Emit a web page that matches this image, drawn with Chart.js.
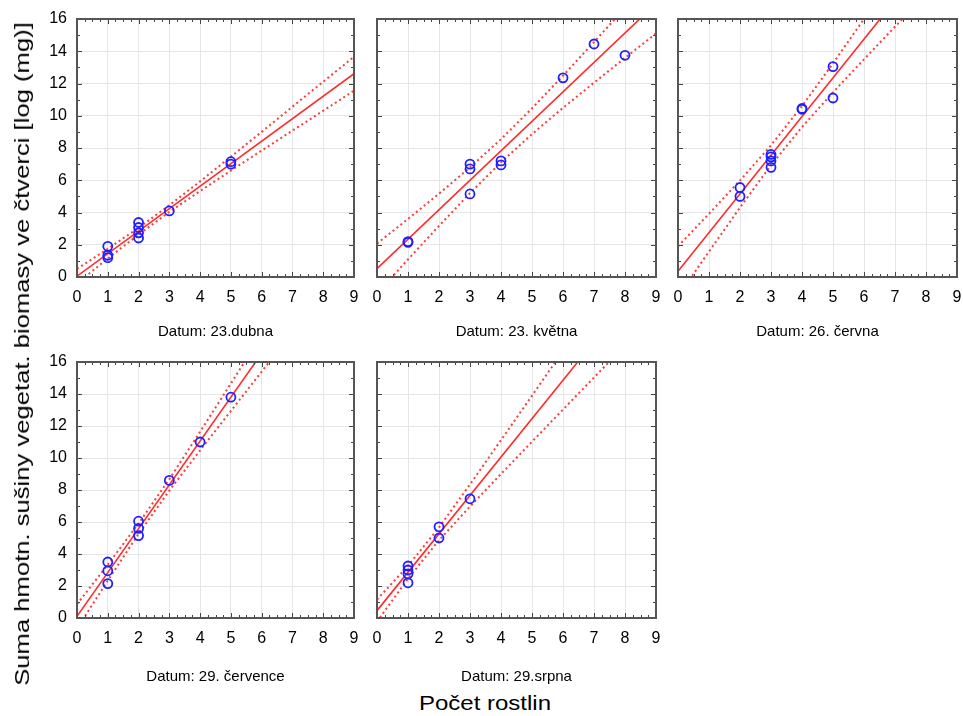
<!DOCTYPE html>
<html>
<head>
<meta charset="utf-8">
<script src="https://cdn.jsdelivr.net/npm/chart.js@4.4.1/dist/chart.umd.min.js"></script>
<style>
  body { margin: 0; background: #fff; }
  #wrap { position: relative; width: 963px; height: 716px; overflow: hidden; font-family: "Liberation Sans", Arial, sans-serif; }
  canvas { position: absolute; }
  #ytitle {
    position: absolute; left: 22px; top: 354px;
    transform: translate(-50%, -50%) rotate(-90deg) scaleX(1.22);
    white-space: nowrap; font-size: 21px; color: #000;
  }
  #xtitle {
    position: absolute; left: 485px; top: 703px;
    transform: translate(-50%, -50%) scaleX(1.2);
    white-space: nowrap; font-size: 20px; color: #000;
  }
</style>
</head>
<body>
<div id="wrap">
  <canvas id="c1"></canvas>
  <canvas id="c2"></canvas>
  <canvas id="c3"></canvas>
  <canvas id="c4"></canvas>
  <canvas id="c5"></canvas>
  <div id="ytitle">Suma hmotn. sušiny vegetat. biomasy ve čtverci [log (mg)]</div>
  <div id="xtitle">Počet rostlin</div>
</div>
<script>
// panel titles (dates)
const panelTitles = ["Datum: 23.dubna", "Datum: 23. května", "Datum: 26. června", "Datum: 29. července", "Datum: 29.srpna"];

// measured points: x = number of plants, y = log biomass
const aprX = [1, 1, 1, 2, 2, 2, 2, 3, 5, 5];
const aprY = [1.9, 1.35, 1.2, 3.38, 3.07, 2.74, 2.42, 4.1, 7.15, 7.0];
const mayX = [1, 1, 3, 3, 3, 4, 4, 6, 7, 8];
const mayY = [2.15, 2.2, 7.0, 6.7, 5.15, 7.2, 6.95, 12.35, 14.45, 13.75];
const junX = [2, 2, 3, 3, 3, 3, 4, 4, 5, 5];
const junY = [5.55, 5.0, 7.6, 7.45, 7.2, 6.8, 10.4, 10.45, 13.05, 11.1];
const julX = [1, 1, 1, 2, 2, 2, 3, 4, 5];
const julY = [3.5, 2.95, 2.15, 6.05, 5.6, 5.15, 8.6, 11.0, 13.8];
const augX = [1, 1, 1, 1, 2, 2, 3];
const augY = [3.25, 3.0, 2.75, 2.2, 5.7, 5.0, 7.45];

// regression line end points (x = 0 and x = 9)
const fitX = [0, 9];
const aprFit = [0.05, 12.61];
const mayFit = [0.52, 16.96];
const junFit = [0.35, 21.95];
const julFit = [0.1, 24.76];
const augFit = [0.46, 22.06];

const bandX = [0, 1, 2, 3, 4, 5, 6, 7, 8, 9];
const aprUpper = [0.5, 1.75, 3.05, 4.45, 5.93, 7.46, 9.0, 10.56, 12.11, 13.66];
const aprLower = [-0.4, 1.15, 2.63, 4.03, 5.33, 6.6, 7.84, 9.08, 10.31, 11.56];
const mayUpper = [2.07, 3.6, 5.17, 6.8, 8.55, 10.46, 12.48, 14.57, 16.69, 18.82];
const mayLower = [-1.03, 1.09, 3.17, 5.2, 7.11, 8.86, 10.49, 12.05, 13.59, 15.1];
const junUpper = [1.9, 3.92, 5.99, 8.17, 10.6, 13.25, 16.0, 18.78, 21.57, 24.38];
const junLower = [-1.2, 1.58, 4.31, 6.93, 9.3, 11.45, 13.5, 15.52, 17.53, 19.52];
const julUpper = [0.86, 3.34, 5.9, 8.68, 11.64, 14.66, 17.68, 20.71, 23.75, 26.78];
const julLower = [-0.66, 2.34, 5.26, 7.96, 10.48, 12.94, 15.4, 17.85, 20.29, 22.74];
const augUpper = [1.15, 3.26, 5.66, 8.35, 11.12, 13.9, 16.69, 19.49, 22.28, 25.08];
const augLower = [-0.23, 2.46, 4.86, 6.97, 9.0, 11.02, 13.03, 15.03, 17.04, 19.04];

Chart.defaults.font.family = "'Liberation Sans', Arial, sans-serif";
Chart.defaults.color = "#000";

const toXY = (xs, ys) => xs.map((x, i) => ({ x: x, y: ys[i] }));

// frame + inward ticks on all four sides
const framePlugin = {
  id: "frame",
  afterDraw(chart) {
    const ctx = chart.ctx;
    const a = chart.chartArea;
    const sx = chart.scales.x;
    const sy = chart.scales.y;
    ctx.save();
    ctx.strokeStyle = "#444";
    ctx.lineWidth = 1;
    ctx.beginPath();
    for (let v = 0; v <= 9; v += 0.25) {
      const px = Math.round(sx.getPixelForValue(v)) + 0.5;
      const len = v % 1 === 0 ? 5 : 3;
      ctx.moveTo(px, a.bottom);
      ctx.lineTo(px, a.bottom - len);
      ctx.moveTo(px, a.top);
      ctx.lineTo(px, a.top + len);
    }
    for (let v = 0; v <= 16; v += 1) {
      const py = Math.round(sy.getPixelForValue(v)) + 0.5;
      const len = v % 2 === 0 ? 5 : 3;
      ctx.moveTo(a.left, py);
      ctx.lineTo(a.left + len, py);
      ctx.moveTo(a.right, py);
      ctx.lineTo(a.right - len, py);
    }
    ctx.stroke();
    ctx.strokeStyle = "#555";
    ctx.lineWidth = 2;
    ctx.strokeRect(a.left, a.top, a.right - a.left, a.bottom - a.top);
    ctx.restore();
  },
};

function makePanel(id, title, px, py, fy, up, lo, area, showY) {
  // area = [left, top, right, bottom] of the plot box, plus title centre y
  const [l, t, r, b, titleY] = area;
  const yw = showY ? 47 : 12;
  const canvas = document.getElementById(id);
  const cl = l - yw;
  const ct = t - 20;
  const cw = r - cl + 6;
  const ch = titleY + 9 - ct;
  canvas.width = cw;
  canvas.height = ch;
  canvas.style.left = cl + "px";
  canvas.style.top = ct + "px";

  new Chart(canvas, {
    type: "scatter",
    data: {
      datasets: [
        {
          data: toXY(px, py),
          pointStyle: "circle",
          pointRadius: 4.5,
          pointBorderWidth: 1.8,
          pointBorderColor: "#1f1fff",
          pointBackgroundColor: "rgba(0,0,0,0)",
        },
        {
          data: toXY(fitX, fy),
          showLine: true,
          pointRadius: 0,
          borderColor: "#ff2b2b",
          borderWidth: 1.6,
        },
        {
          data: toXY(bandX, up),
          showLine: true,
          pointRadius: 0,
          borderColor: "#ff3a3a",
          borderWidth: 2,
          borderDash: [2, 3],
        },
        {
          data: toXY(bandX, lo),
          showLine: true,
          pointRadius: 0,
          borderColor: "#ff3a3a",
          borderWidth: 2,
          borderDash: [2, 3],
        },
      ],
    },
    options: {
      responsive: false,
      animation: false,
      events: [],
      layout: { autoPadding: false, padding: { top: 20, right: 6, left: 0, bottom: 0 } },
      plugins: { legend: { display: false }, tooltip: { enabled: false } },
      scales: {
        x: {
          type: "linear",
          min: 0,
          max: 9,
          afterFit: (s) => { s.height = titleY + 9 - b; },
          ticks: { stepSize: 1, autoSkip: false, padding: 0, font: { size: 16 }, color: "#000" },
          grid: { color: "#e6e6e6", drawTicks: true, tickLength: 11, tickColor: "rgba(0,0,0,0)" },
          border: { display: false },
          title: { display: true, text: title, font: { size: 15 }, color: "#000", padding: { top: 0, bottom: -2 } },
        },
        y: {
          type: "linear",
          min: 0,
          max: 16,
          afterFit: (s) => { s.width = yw; },
          ticks: { stepSize: 2, display: showY, padding: 0, font: { size: 16 }, color: "#000" },
          grid: { color: "#e6e6e6", drawTicks: true, tickLength: 10, tickColor: "rgba(0,0,0,0)" },
          border: { display: false },
        },
      },
    },
    plugins: [framePlugin],
  });
}

makePanel("c1", panelTitles[0], aprX, aprY, aprFit, aprUpper, aprLower, [77, 19, 354, 277, 330], true);
makePanel("c2", panelTitles[1], mayX, mayY, mayFit, mayUpper, mayLower, [377, 19, 656, 277, 330], false);
makePanel("c3", panelTitles[2], junX, junY, junFit, junUpper, junLower, [678, 19, 957, 277, 330], false);
makePanel("c4", panelTitles[3], julX, julY, julFit, julUpper, julLower, [77, 362, 354, 618, 675], true);
makePanel("c5", panelTitles[4], augX, augY, augFit, augUpper, augLower, [377, 362, 656, 618, 675], false);
</script>
</body>
</html>
